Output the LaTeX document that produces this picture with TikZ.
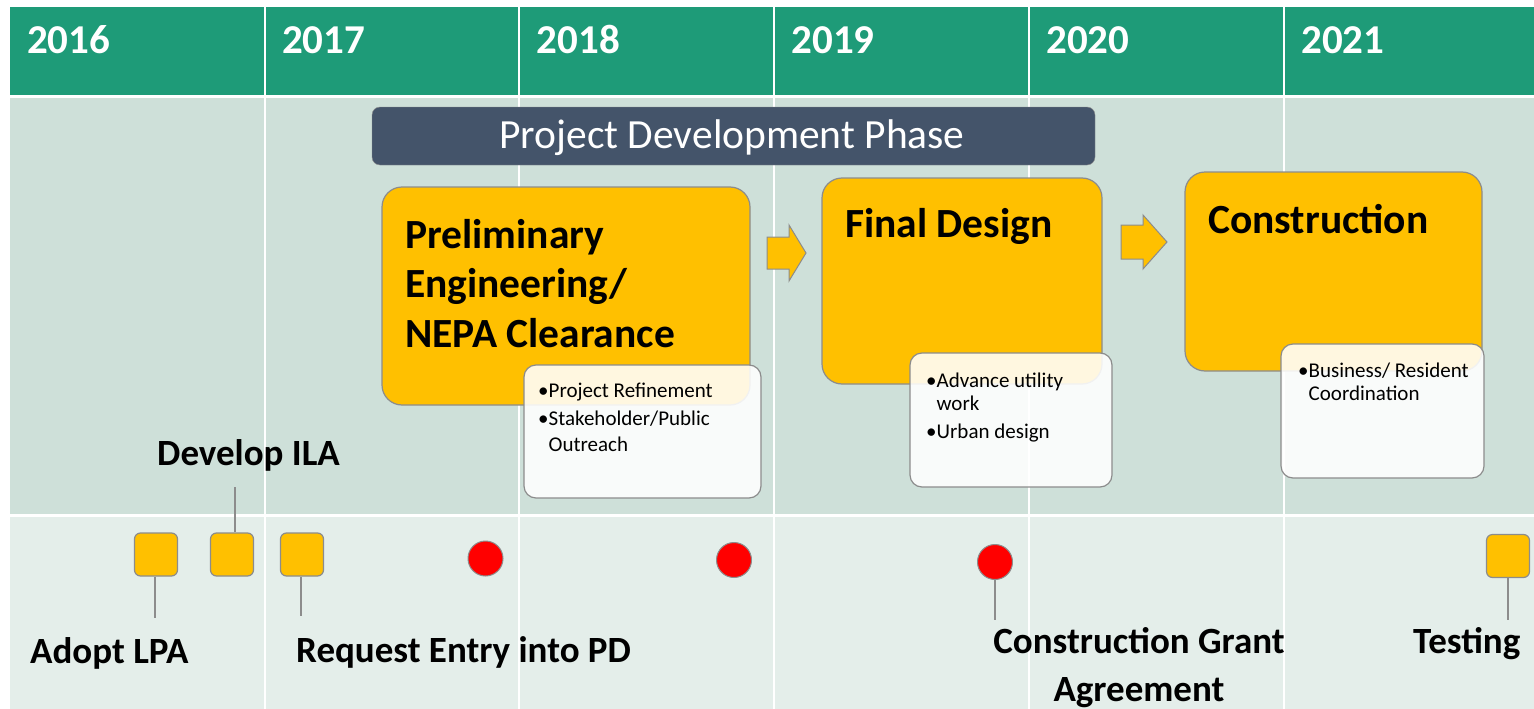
\documentclass[tikz,border=0pt]{standalone}
\usepackage{fontspec}
\setmainfont{Carlito}
\usetikzlibrary{positioning}
\definecolor{hdrgreen}{HTML}{1E9B78}
\definecolor{bandtop}{HTML}{CEE0D9}
\definecolor{bandlow}{HTML}{E4EEEA}
\definecolor{slate}{HTML}{44546A}
\definecolor{amber}{HTML}{FFC000}
\definecolor{edgegray}{HTML}{8C8C8C}
\tikzset{
  yearlbl/.style={anchor=base west,text=white,font=\bfseries\fontsize{41}{48}\selectfont,inner sep=0},
  stage/.style={draw=edgegray,fill=amber,rounded corners=20,line width=1.2,inner sep=0},
  stagetitle/.style={anchor=base west,align=left,inner sep=0,font=\bfseries\fontsize{41.5}{49.5}\selectfont},
  detail/.style={draw=edgegray,fill=white,fill opacity=0.88,text opacity=1,rounded corners=12,line width=1.2,inner sep=0},
  detailtxt/.style={anchor=base west,align=left,inner sep=0,font=\fontsize{21}{23}\selectfont},
  blockarr/.style={draw=edgegray,fill=amber,line width=1},
  msquare/.style={draw=edgegray,fill=amber,rounded corners=6,minimum size=43,inner sep=0,line width=1.2},
  mdot/.style={circle,draw=edgegray,fill=red,minimum width=33,minimum height=35,inner sep=0,line width=1},
  stem/.style={draw=edgegray,line width=2.5},
  mlabel/.style={inner sep=0,font=\bfseries\fontsize{37}{48}\selectfont}
}
\begin{document}
\begin{tikzpicture}[x=1pt,y=-1pt]
\useasboundingbox (0,0) rectangle (1534,709);
\fill[white] (0,0) rectangle (1534,709);
\fill[hdrgreen] (10,7) rectangle (1534,95);
\fill[bandtop] (10,98) rectangle (1534,514);
\fill[bandlow] (10,517) rectangle (1534,709);
\foreach \x in {265,519,774,1029,1284}
  \draw[white,line width=2] (\x,7) -- (\x,709);
\foreach \yr [count=\i from 0] in {2016,2017,2018,2019,2020,2021}
  \node[yearlbl] (y\yr) at (27+\i*254.8,54) {\yr};

\node[draw=edgegray,fill=slate,rounded corners=8,minimum width=723,minimum height=58,inner sep=0] (pdphase) at (733.5,136) {};
\node[anchor=base,inner sep=0,text=white,font=\fontsize{41.5}{48}\selectfont] (pdphaseT) at (732,148) {Project Development Phase};

\node[stage,minimum width=368,minimum height=218] (prelim) at (566,296) {};
\node[stagetitle] (prelimT) at (405,347) {Preliminary\\Engineering/\\NEPA Clearance};
\node[stage,minimum width=280,minimum height=206] (final) at (962,281) {};
\node[stagetitle] (finalT) at (845,237) {Final Design};
\node[stage,minimum width=297,minimum height=199] (constr) at (1333.5,271.5) {};
\node[stagetitle] (constrT) at (1208,233) {Construction};

\draw[blockarr] (767,237) -- (789,237) -- (789,225) -- (806,253) -- (789,281) -- (789,269) -- (767,269) -- cycle;
\draw[blockarr] (1121,225) -- (1143,225) -- (1143,215) -- (1167,242) -- (1143,269) -- (1143,259) -- (1121,259) -- cycle;

\node[detail,minimum width=237,minimum height=133] (prelimD) at (642.5,431.5) {};
\node[detailtxt] (prelimDT) at (538,451) {•Project Refinement\\[5pt]•Stakeholder/Public\\[3pt]\hphantom{•}Outreach};
\node[detail,minimum width=202,minimum height=134] (finalD) at (1011,420) {};
\node[detailtxt] (finalDT) at (926,438) {•Advance utility\\\hphantom{•}work\\[5pt]•Urban design};
\node[detail,minimum width=203,minimum height=134] (constrD) at (1382.5,411) {};
\node[detailtxt] (constrDT) at (1298,400) {•Business/ Resident\\\hphantom{•}Coordination};

\node[msquare] (mAdopt) at (156,554.5) {};
\node[msquare] (mIla) at (232,554.5) {};
\node[msquare] (mReq) at (302,554.5) {};
\node[mdot] (mA) at (485.5,558.5) {};
\node[mdot] (mB) at (734,560) {};
\node[mdot] (mGrant) at (995,562) {};
\node[msquare] (mTest) at (1508,556) {};

\node[mlabel,anchor=base west] (lAdopt) at (30,663) {Adopt LPA};
\node[mlabel,anchor=base west] (lIla) at (157,465) {Develop ILA};
\node[mlabel,anchor=base west] (lReq) at (296,662) {Request Entry into PD};
\node[mlabel,anchor=base,align=center] (lGrant) at (1139,701) {Construction Grant\\Agreement};
\node[mlabel,anchor=base west] (lTest) at (1413,653) {Testing};

\draw[stem,shorten >=19] ([xshift=-1]mAdopt.south) -- ([xshift=-1]mAdopt.south |- lAdopt.north);
\draw[stem,shorten >=16] ([xshift=3]mIla.north) -- ([xshift=3]mIla.north |- lIla.south);
\draw[stem,shorten >=20] ([xshift=-1]mReq.south) -- ([xshift=-1]mReq.south |- lReq.north);
\draw[stem,shorten >=7] (mGrant.south) -- (mGrant.south |- lGrant.north);
\draw[stem,shorten >=7] (mTest.south) -- (mTest.south |- lTest.north);
\end{tikzpicture}
\end{document}
